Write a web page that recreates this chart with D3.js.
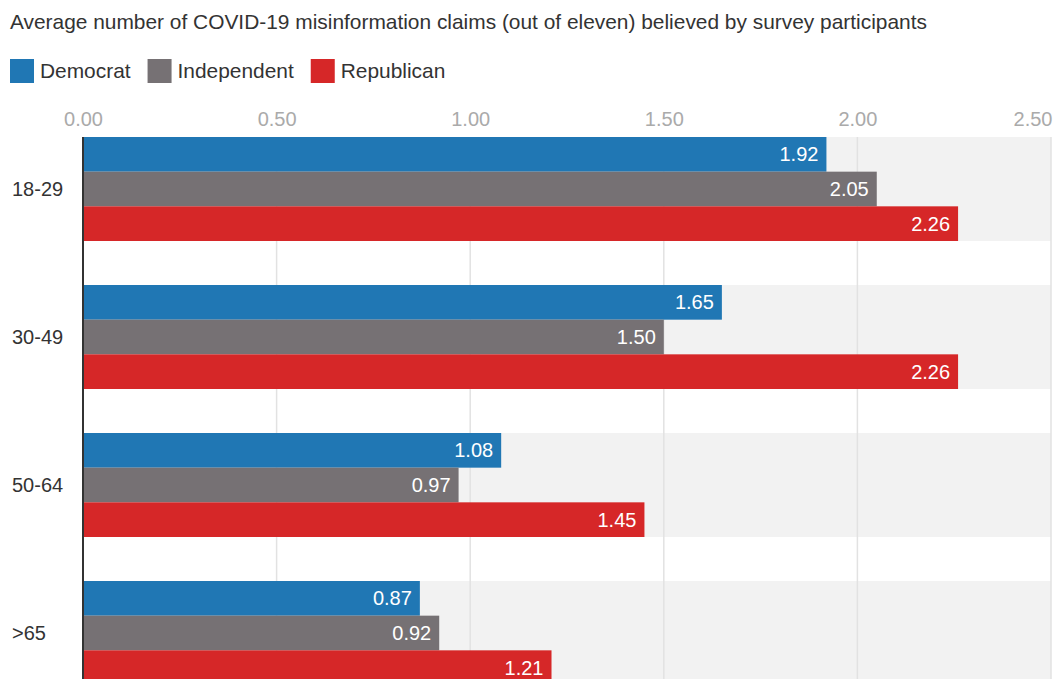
<!DOCTYPE html>
<html>
<head>
<meta charset="utf-8">
<script src="https://cdn.jsdelivr.net/npm/d3@7"></script>
<style>
  html, body { margin: 0; padding: 0; background: #fff; }
  svg { display: block; font-family: "Liberation Sans", Arial, sans-serif; }
</style>
</head>
<body>
<svg id="chart" width="1055" height="679"></svg>
<script>
// Age groups, parties and the average number of claims believed
const ageGroups = ["18-29", "30-49", "50-64", ">65"];
const parties = ["Democrat", "Independent", "Republican"];
const democrat = [1.92, 1.65, 1.08, 0.87];
const independent = [2.05, 1.50, 0.97, 0.92];
const republican = [2.26, 2.26, 1.45, 1.21];
const xTicks = [0, 0.5, 1.0, 1.5, 2.0, 2.5];
const partyColors = ["#2077b4", "#767174", "#d62728"];

const seriesByParty = [democrat, independent, republican];
const rows = ageGroups.map((age, i) => ({
  age,
  values: parties.map((p, j) => ({ party: p, value: seriesByParty[j][i] }))
}));

const svg = d3.select("#chart");
const width = 1055, height = 679;
const fs = 20;      // axis, value and category labels
const headFs = 20.9; // title and legend

const x = d3.scaleLinear().domain([0, 2.5]).range([83, 1051]);
const y = d3.scaleBand().domain(ageGroups).range([137, 685]).paddingInner(44 / 148).paddingOuter(0);
const yInner = d3.scaleBand().domain(parties).range([0, y.bandwidth()]);
const color = d3.scaleOrdinal().domain(parties).range(partyColors);

// Title
svg.append("text")
  .attr("x", 10).attr("y", 29)
  .attr("font-size", headFs).attr("fill", "#333")
  .text("Average number of COVID-19 misinformation claims (out of eleven) believed by survey participants");

// Legend
let lx = 10;
const legend = svg.append("g");
parties.forEach(p => {
  const g = legend.append("g").attr("transform", `translate(${lx},59)`);
  g.append("rect").attr("width", 24).attr("height", 24).attr("fill", color(p));
  const t = g.append("text").attr("x", 30).attr("y", 19)
    .attr("font-size", headFs).attr("fill", "#333").text(p);
  lx += 30 + t.node().getComputedTextLength() + 17;
});

// Background bands behind each age group
svg.append("g").selectAll("rect").data(ageGroups).join("rect")
  .attr("x", x(0)).attr("y", d => y(d))
  .attr("width", x(2.5) - x(0)).attr("height", y.bandwidth())
  .attr("fill", "#f2f2f2");

// Top axis with gridlines
const axis = d3.axisTop(x).tickValues(xTicks).tickFormat(d3.format(".2f")).tickSize(0).tickPadding(0);
const ax = svg.append("g").attr("transform", "translate(0,126)").call(axis);
ax.select(".domain").remove();
ax.selectAll("text").attr("font-size", fs).attr("fill", "#aaa")
  .attr("font-family", "'Liberation Sans', Arial, sans-serif")
  .attr("text-anchor", (d, i) => i === xTicks.length - 1 ? "end" : "middle")
  .attr("dx", (d, i) => i === xTicks.length - 1 ? 1 : 0);

svg.append("g").selectAll("line").data(xTicks.slice(1)).join("line")
  .attr("x1", d => x(d)).attr("x2", d => x(d))
  .attr("y1", 137).attr("y2", height)
  .attr("stroke", "#e2e2e2").attr("stroke-width", 1.5);

// Bars
const groups = svg.append("g").selectAll("g").data(rows).join("g")
  .attr("transform", d => `translate(0,${y(d.age)})`);

groups.selectAll("rect").data(d => d.values).join("rect")
  .attr("x", x(0)).attr("y", d => yInner(d.party))
  .attr("width", d => x(d.value) - x(0)).attr("height", yInner.bandwidth())
  .attr("fill", d => color(d.party));

groups.selectAll("text").data(d => d.values).join("text")
  .attr("x", d => x(d.value) - 8)
  .attr("y", d => yInner(d.party) + yInner.bandwidth() / 2)
  .attr("dy", "0.35em")
  .attr("text-anchor", "end")
  .attr("font-size", fs).attr("fill", "#fff")
  .text(d => d3.format(".2f")(d.value));

// Category labels
svg.append("g").selectAll("text").data(ageGroups).join("text")
  .attr("x", 12).attr("y", d => y(d) + y.bandwidth() / 2)
  .attr("dy", "0.35em")
  .attr("font-size", fs).attr("fill", "#333")
  .text(d => d);

// Baseline
svg.append("line")
  .attr("x1", x(0)).attr("x2", x(0)).attr("y1", 137).attr("y2", height)
  .attr("stroke", "#333").attr("stroke-width", 2);
</script>
</body>
</html>
